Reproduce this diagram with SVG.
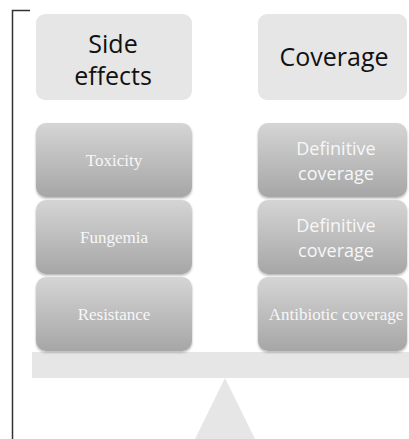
<svg xmlns="http://www.w3.org/2000/svg" width="409" height="439" viewBox="0 0 409 439">
  <defs>
    <linearGradient id="weightFill" x1="0" y1="0" x2="0" y2="1">
      <stop offset="0" stop-color="#d5d5d5"/>
      <stop offset="1" stop-color="#a6a6a6"/>
    </linearGradient>
    <filter id="softShadow" x="-10%" y="-10%" width="120%" height="130%">
      <feDropShadow dx="0" dy="1.5" stdDeviation="1.2" flood-color="#000" flood-opacity="0.3"/>
    </filter>
  </defs>
  <style>
    .head { fill: #e6e6e6; }
    .weight { fill: url(#weightFill); filter: url(#softShadow); }
    .headText { font-family: "Open Sans", "Liberation Sans", sans-serif; font-size: 25px; fill: #111; text-anchor: middle; }
    .serifText { font-family: "Liberation Serif", serif; font-size: 17px; fill: #f7f7f7; text-anchor: middle; }
    .sansText { font-family: "Open Sans", "Liberation Sans", sans-serif; font-size: 18px; fill: #f7f7f7; text-anchor: middle; }
    .scale { fill: #e6e6e6; }
    .frame { stroke: #333; stroke-width: 1.5; fill: none; }
  </style>

  <!-- frame bracket -->
  <path class="frame" d="M30 10.5 H12.5 V439"/>

  <!-- balance beam and fulcrum -->
  <g id="scale">
    <rect class="scale" x="32" y="352" width="377" height="26"/>
    <polygon class="scale" points="225,378 195,439 255,439"/>
  </g>

  <!-- column headers -->
  <g id="side-effects">
    <rect class="head" x="36" y="14" width="156" height="86" rx="9"/>
    <text class="headText" x="113" y="53">Side<tspan x="113" dy="32">effects</tspan></text>
  </g>
  <g id="coverage">
    <rect class="head" x="258" y="14" width="149" height="86" rx="9"/>
    <text class="headText" x="334" y="66">Coverage</text>
  </g>

  <!-- left stack -->
  <g id="toxicity">
    <rect class="weight" x="36" y="123" width="156" height="74" rx="10"/>
    <text class="serifText" x="114" y="166">Toxicity</text>
  </g>
  <g id="fungemia">
    <rect class="weight" x="36" y="200" width="156" height="74" rx="10"/>
    <text class="serifText" x="114" y="243">Fungemia</text>
  </g>
  <g id="resistance">
    <rect class="weight" x="36" y="277" width="156" height="74" rx="10"/>
    <text class="serifText" x="114" y="320">Resistance</text>
  </g>

  <!-- right stack -->
  <g id="definitive-coverage-1">
    <rect class="weight" x="258" y="123" width="149" height="74" rx="10"/>
    <text class="sansText" x="336" y="155">Definitive<tspan x="336" dy="25">coverage</tspan></text>
  </g>
  <g id="definitive-coverage-2">
    <rect class="weight" x="258" y="200" width="149" height="74" rx="10"/>
    <text class="sansText" x="336" y="232">Definitive<tspan x="336" dy="25">coverage</tspan></text>
  </g>
  <g id="antibiotic-coverage">
    <rect class="weight" x="258" y="277" width="149" height="74" rx="10"/>
    <text class="serifText" x="336" y="320">Antibiotic coverage</text>
  </g>
</svg>
